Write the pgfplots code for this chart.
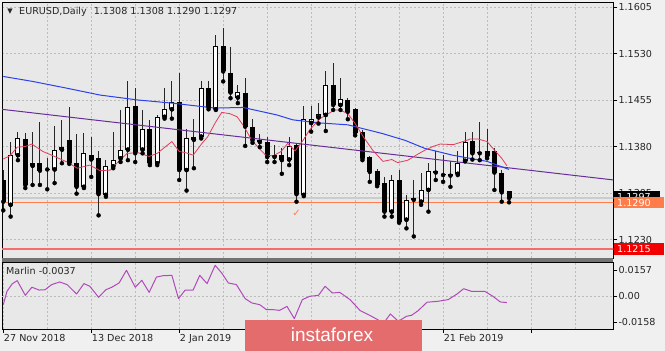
\documentclass[border=0pt]{standalone}
\usepackage{pgfplots}
\pgfplotsset{compat=1.18}
\usepackage{pgfplotstable}
\usepackage{fontspec}
\setmainfont{DejaVu Sans}
\newfontfamily\logofont{Liberation Sans}
\newcommand\mtfont{\fontsize{9.6}{11}\selectfont}
\definecolor{bgout}{RGB}{240,240,240}
\definecolor{bgin}{RGB}{232,232,232}
\definecolor{gridc}{RGB}{188,188,188}
\definecolor{maBlue}{RGB}{45,65,235}
\definecolor{maPurple}{RGB}{105,45,155}
\definecolor{maRed}{RGB}{225,60,90}
\definecolor{lvlOrange}{RGB}{255,125,75}
\definecolor{lvlRed}{RGB}{240,60,60}
\definecolor{marlinc}{RGB}{175,75,185}
\definecolor{logoRed}{RGB}{228,108,108}

\pgfplotstableread{
i O H L C
0 1.1326 1.1342 1.1277 1.1291
1 1.1286 1.1388 1.1267 1.1366
2 1.1366 1.1404 1.1358 1.1393
3 1.1392 1.1401 1.1313 1.1318
4 1.1349 1.1404 1.1318 1.1354
5 1.1354 1.1420 1.1318 1.1341
6 1.1344 1.1361 1.1311 1.1343
7 1.1343 1.1413 1.1321 1.1375
8 1.1375 1.1423 1.1353 1.1379
9 1.1390 1.1443 1.1352 1.1354
10 1.1354 1.1401 1.1304 1.1315
11 1.1315 1.1401 1.1313 1.1369
12 1.1367 1.1395 1.1331 1.1359
13 1.1362 1.1372 1.1269 1.1303
14 1.1302 1.1359 1.1299 1.1349
15 1.1348 1.1404 1.1345 1.1359
16 1.1361 1.1439 1.1355 1.1375
17 1.1375 1.1486 1.1358 1.1444
18 1.1445 1.1474 1.1355 1.1369
19 1.1375 1.1439 1.1369 1.1409
20 1.1408 1.1423 1.1350 1.1353
21 1.1353 1.1431 1.1350 1.1428
22 1.1428 1.1474 1.1425 1.1440
23 1.1440 1.1485 1.1425 1.1452
24 1.1452 1.1499 1.1326 1.1342
25 1.1342 1.1408 1.1309 1.1393
26 1.1391 1.1424 1.1345 1.1396
27 1.1396 1.1485 1.1393 1.1474
28 1.1474 1.1485 1.1440 1.1443
29 1.1440 1.1560 1.1439 1.1542
30 1.1542 1.1571 1.1485 1.1501
31 1.1498 1.1541 1.1458 1.1467
32 1.1459 1.1479 1.1450 1.1468
33 1.1467 1.1490 1.1381 1.1412
34 1.1411 1.1425 1.1386 1.1390
35 1.1391 1.1401 1.1379 1.1387
36 1.1388 1.1396 1.1355 1.1363
37 1.1363 1.1382 1.1355 1.1366
38 1.1366 1.1377 1.1336 1.1358
39 1.1359 1.1396 1.1350 1.1381
40 1.1382 1.1385 1.1291 1.1303
41 1.1302 1.1445 1.1300 1.1424
42 1.1418 1.1445 1.1404 1.1425
43 1.1427 1.1450 1.1417 1.1432
44 1.1431 1.1502 1.1405 1.1479
45 1.1479 1.1515 1.1439 1.1447
46 1.1447 1.1490 1.1439 1.1456
47 1.1455 1.1458 1.1424 1.1436
48 1.1440 1.1442 1.1398 1.1402
49 1.1404 1.1407 1.1358 1.1361
50 1.1363 1.1365 1.1323 1.1339
51 1.1341 1.1343 1.1316 1.1318
52 1.1321 1.1331 1.1267 1.1275
53 1.1275 1.1334 1.1267 1.1326
54 1.1326 1.1342 1.1257 1.1259
55 1.1262 1.1302 1.1248 1.1294
56 1.1294 1.1326 1.1235 1.1297
57 1.1291 1.1337 1.1286 1.1310
58 1.1310 1.1353 1.1275 1.1340
59 1.1341 1.1372 1.1326 1.1338
60 1.1336 1.1366 1.1323 1.1334
61 1.1336 1.1356 1.1315 1.1333
62 1.1336 1.1372 1.1334 1.1354
63 1.1357 1.1404 1.1356 1.1388
64 1.1389 1.1404 1.1359 1.1369
65 1.1371 1.1420 1.1358 1.1369
66 1.1372 1.1409 1.1361 1.1364
67 1.1372 1.1377 1.1310 1.1338
68 1.1338 1.1342 1.1291 1.1306
69 1.1308 1.1308 1.1290 1.1297
}\candles

\pgfplotstableread{
i v
0 1.1493
4 1.1485
8.7 1.1474
13.2 1.1463
18.4 1.1455
23 1.1450
28.9 1.1442
32.7 1.1443
37.3 1.1431
39.5 1.1423
43.2 1.1418
47 1.1415
51.7 1.1401
54.8 1.1390
57.5 1.1377
61.3 1.1366
66 1.1356
69 1.1343
}\blueMA

\pgfplotstableread{
i v
0 1.1360
0.9 1.1365
1.9 1.1379
3.0 1.1380
3.9 1.1384
5.4 1.1372
6.8 1.1365
8.7 1.1355
10.1 1.1345
11.8 1.1350
13.2 1.1341
14.6 1.1342
15.9 1.1358
16.9 1.1369
18.4 1.1370
19.9 1.1364
21.0 1.1369
23.0 1.1388
24.0 1.1372
24.9 1.1370
25.9 1.1366
27.1 1.1385
27.9 1.1396
28.9 1.1418
29.8 1.1435
30.9 1.1433
31.9 1.1428
32.8 1.1413
33.9 1.1390
34.9 1.1377
35.8 1.1366
36.8 1.1365
37.9 1.1372
38.8 1.1385
39.8 1.1373
40.9 1.1390
41.8 1.1407
43.2 1.1425
45.2 1.1439
45.9 1.1439
47.0 1.1433
48.0 1.1417
49.1 1.1396
50.4 1.1374
51.8 1.1356
53.0 1.1359
53.8 1.1354
55.2 1.1358
56.6 1.1368
57.5 1.1374
58.6 1.1380
59.6 1.1384
61.4 1.1383
62.7 1.1388
63.7 1.1392
64.8 1.1392
66.0 1.1388
66.8 1.1377
68.0 1.1361
68.7 1.1349
}\redMA

\pgfplotstableread{
i v
0 -0.0053
0.5 0.0028
1.2 0.0073
1.9 0.0093
3.0 0.0004
3.9 0.0053
4.9 0.0036
5.7 0.0038
6.6 0.0069
7.7 0.0085
8.7 0.0069
10.0 0.0012
11.0 0.0075
11.8 0.0059
13.0 -0.0008
14.0 0.0038
14.8 0.0053
15.8 0.0079
16.8 0.0156
18.0 0.0053
18.9 0.0095
19.9 0.0022
20.9 0.0115
21.8 0.0123
23.0 0.0125
23.9 -0.0016
24.8 0.0035
25.9 0.0036
26.8 0.0125
27.8 0.0075
28.9 0.0186
29.8 0.0139
30.7 0.0079
31.8 0.0069
33.0 -0.0016
33.9 -0.0042
35.0 -0.0053
35.9 -0.0083
36.8 -0.0083
37.7 -0.0087
38.7 -0.0063
39.7 -0.0137
40.8 -0.0022
41.8 -0.0002
43.0 0.0004
43.9 0.0059
44.9 0.0018
45.9 0.0022
47.3 -0.0022
48.7 -0.0089
49.8 -0.0113
50.9 -0.0139
51.9 -0.0164
52.8 -0.0109
53.9 -0.0153
55.0 -0.0123
55.7 -0.0117
56.6 -0.0089
57.8 -0.0038
59.3 -0.0032
60.7 -0.0022
61.9 0.0012
62.8 0.0044
63.9 0.0028
65.7 0.0028
66.8 -0.0002
67.8 -0.0036
68.7 -0.0040
}\marlin

\begin{document}
\begin{tikzpicture}[x=1pt,y=1pt]
\fill[bgout] (0,0) rectangle (665,351);
% ---------------- main price panel ----------------
\begin{axis}[
  at={(2pt,93pt)}, anchor=south west,
  width=611.3pt, height=256pt, scale only axis,
  xmin=-0.177, xmax=83.22, ymin=1.12002, ymax=1.16131,
  axis background/.style={fill=bgin},
  axis line style={black, line width=0.8pt},
  /pgf/number format/assume math mode=true,
  xtick={6,12,...,78}, xticklabel=\empty, xtick style={draw=none},
  ytick={1.1230,1.1305,1.1380,1.1455,1.1530,1.1605},
  yticklabels={1.1230,1.1305,1.1380,1.1455,1.1530,1.1605},
  scaled y ticks=false,
  ytick pos=right, yticklabel pos=right,
  tick align=outside, major tick length=4pt,
  ytick style={black, line width=0.6pt},
  yticklabel style={anchor=west, font=\mtfont, text=black!85, inner sep=0pt, xshift=1pt},
  xmajorgrids, ymajorgrids,
  grid style={gridc, dash pattern=on 2pt off 2pt, line width=0.6pt},
]
% level lines
\addplot[black!20, line width=1.4pt, forget plot] coordinates {(-1,1.1297) (84,1.1297)};
\addplot[lvlOrange, line width=1pt, forget plot] coordinates {(-1,1.1290) (84,1.1290)};
\addplot[lvlRed!75, line width=1.6pt, forget plot] coordinates {(-1,1.1215) (84,1.1215)};
% candle wicks
\addplot[only marks, mark=none, forget plot,
  error bars/.cd, y dir=plus, y explicit, error mark=none,
  error bar style={black!85, line width=1pt}]
  table[x=i, y=L, y error plus expr=\thisrow{H}-\thisrow{L}] {\candles};
% candle bodies (outline / black fill)
\addplot[only marks, mark=none, forget plot,
  error bars/.cd, y dir=plus, y explicit, error mark=none,
  error bar style={black, line width=5pt}]
  table[x=i, y expr={min(\thisrow{O},\thisrow{C})}, y error plus expr={abs(\thisrow{C}-\thisrow{O})}] {\candles};
% white interiors of bullish candles
\addplot[only marks, mark=none, forget plot,
  restrict expr to domain={\thisrow{C}-\thisrow{O}}{0.00035:1},
  error bars/.cd, y dir=plus, y explicit, error mark=none,
  error bar style={white, line width=3pt, shorten <=1pt, shorten >=1pt}]
  table[x=i, y=O, y error plus expr=\thisrow{C}-\thisrow{O}] {\candles};
% moving averages / trend line
\addplot[maPurple, line width=1pt, forget plot] coordinates {(-0.2,1.1440) (83.3,1.1326)};
\addplot[maBlue, line width=1pt, no marks, line join=round, forget plot] table[x=i, y=v] {\blueMA};
\addplot[maRed, line width=0.8pt, no marks, line join=round, forget plot] table[x=i, y=v] {\redMA};
\node[text=lvlOrange, font=\fontsize{10}{10}\selectfont] at (axis cs:40,1.1273) {✓};
\end{axis}
% ---------------- Marlin panel ----------------
\begin{axis}[
  at={(2pt,22pt)}, anchor=south west,
  width=611.3pt, height=67pt, scale only axis,
  xmin=-0.177, xmax=83.22, ymin=-0.0200, ymax=0.0206,
  axis background/.style={fill=bgin},
  axis line style={black, line width=0.8pt},
  /pgf/number format/assume math mode=true,
  xtick={0,12,...,72},
  xticklabels={27 Nov 2018,13 Dec 2018,2 Jan 2019,,,21 Feb 2019,},
  minor xtick={6,18,...,78},
  xtick pos=bottom, tick align=outside, major tick length=4pt, minor tick length=0pt,
  xtick style={black, line width=0.6pt},
  xticklabel style={anchor=north west, font=\mtfont, text=black!85, inner sep=0pt, yshift=-1.5pt, xshift=0.5pt},
  xmajorgrids, xminorgrids,
  grid style={gridc, dash pattern=on 2pt off 2pt, line width=0.6pt},
  scaled y ticks=false,
  ytick={-0.0158,0.0157}, yticklabels={-0.0158,0.0157},
  extra y ticks={0}, extra y tick labels={0.00},
  extra y tick style={ymajorgrids=true},
  ytick pos=right, yticklabel pos=right,
  ytick style={black, line width=0.6pt},
  yticklabel style={anchor=west, font=\mtfont, text=black!85, inner sep=0pt, xshift=1pt},
]
\addplot[marlinc, line width=1pt, no marks, line join=round] table[x=i, y=v] {\marlin};
\end{axis}
% panel separator
\fill[black!55] (2,89.3) rectangle (613.3,92.7);
% title and indicator label
\node[font=\fontsize{7}{8}\selectfont, text=black!85] at (10,339) {▼};
\node[anchor=west, font=\mtfont, text=black!85, inner sep=0pt] at (19,339) {EURUSD,Daily\hspace{7pt}1.1308 1.1308 1.1290 1.1297};
\node[anchor=west, font=\mtfont, text=black!85, inner sep=0pt] at (6,80) {Marlin -0.0037};
% price boxes on the right scale
\fill[black] (614,148) rectangle (660,160.3);
\node[anchor=west, font=\mtfont, text=white, inner sep=0pt] at (617,154) {1.1297};
\fill[lvlOrange] (614,142.7) rectangle (664,153.7);
\node[anchor=west, font=\mtfont, text=white, inner sep=0pt] at (617,148.2) {1.1290};
\fill[red!95!black] (614,96) rectangle (664,108);
\node[anchor=west, font=\mtfont, text=white, inner sep=0pt] at (617,102) {1.1215};
% logo
\fill[logoRed] (245,0) rectangle (422,31);
\node[font=\logofont\fontsize{19}{20}\selectfont, text=white] at (332,16.5) {instaforex};
\pgfresetboundingbox
\path[use as bounding box] (0,0) rectangle (665,351);
\end{tikzpicture}
\end{document}
